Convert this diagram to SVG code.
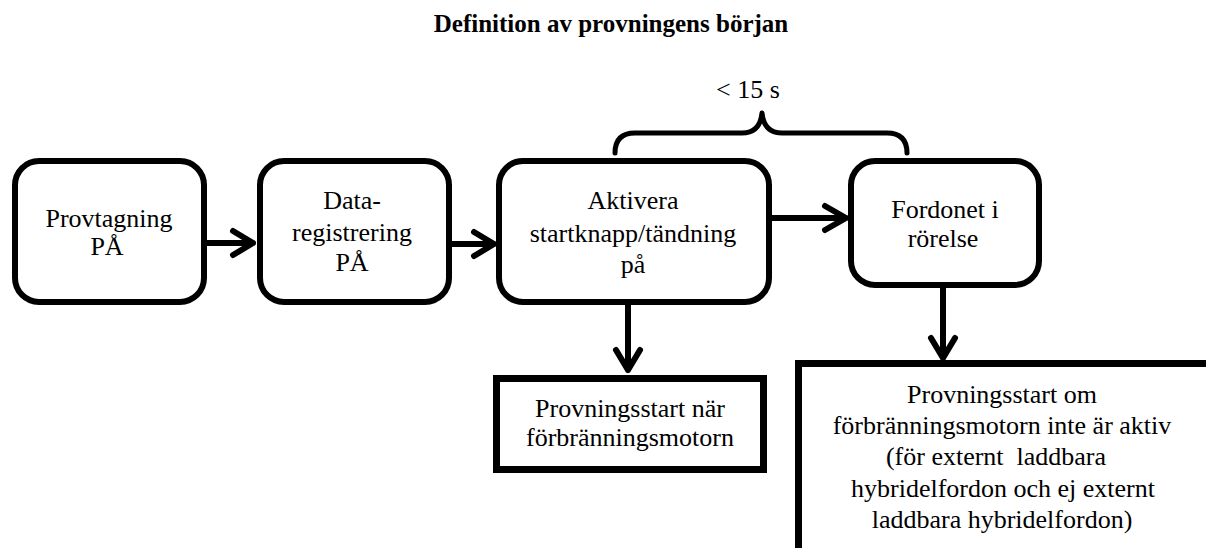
<svg xmlns="http://www.w3.org/2000/svg" width="1206" height="548" viewBox="0 0 1206 548">
<style>
.box{fill:#fff;stroke:#000;stroke-width:6}
.sq{fill:#fff;stroke:#000;stroke-width:7}
.t{font-family:"Liberation Serif","Times New Roman",serif;font-size:26px;fill:#000;text-anchor:middle}
.title{font-family:"Liberation Serif","Times New Roman",serif;font-size:25px;font-weight:bold;fill:#000;text-anchor:middle}
.ln{fill:none;stroke:#000;stroke-width:6;stroke-linecap:round;stroke-linejoin:round}
.br{fill:none;stroke:#000;stroke-width:5;stroke-linecap:round;stroke-linejoin:round}
</style>
<rect width="1206" height="548" fill="#fff"/>
<text class="title" x="611" y="32">Definition av provningens början</text>
<g id="connectors">
<path class="ln" d="M207,243 L253,243 M233,231 L253,243 L233,255"/>
<path class="ln" d="M452,244 L494,244 M474,232 L494,244 L474,256"/>
<path class="ln" d="M772,218 L846,218 M825,206 L846,218 L825,230"/>
<path class="ln" d="M628,305 L628,370 M616,350 L628,370 L640,350"/>
<path class="ln" d="M943,288 L943,358 M931,338 L943,358 L955,338"/>
<path class="br" d="M615,153 Q615,133 635,133 L742,133 Q760,133 762,113 Q764,133 782,133 L887,133 Q907,133 907,153"/>
<text class="t" x="748" y="98" font-size="25">&lt; 15 s</text>
</g>
<g id="n1">
<rect class="box" x="15" y="161" width="189" height="141" rx="24"/>
<text class="t" x="109" y="227">Provtagning</text>
<text class="t" x="107" y="255">PÅ</text>
</g>
<g id="n2">
<rect class="box" x="260" y="161" width="189" height="141" rx="24"/>
<text class="t" x="352" y="209">Data-</text>
<text class="t" x="352" y="241">registrering</text>
<text class="t" x="352" y="271">PÅ</text>
</g>
<g id="n3">
<rect class="box" x="499" y="161" width="270" height="141" rx="24"/>
<text class="t" x="633" y="209">Aktivera</text>
<text class="t" x="633" y="242">startknapp/tändning</text>
<text class="t" x="633" y="273">på</text>
</g>
<g id="n4">
<rect class="box" x="851" y="161" width="188" height="124" rx="24"/>
<text class="t" x="945" y="218">Fordonet i</text>
<text class="t" x="943" y="247">rörelse</text>
</g>
<g id="n5">
<rect class="sq" x="496.5" y="378.5" width="267" height="91"/>
<text class="t" x="630" y="417">Provningsstart när</text>
<text class="t" x="630" y="446">förbränningsmotorn</text>
</g>
<g id="n6">
<rect class="sq" x="798.5" y="363.5" width="420" height="200"/>
<text class="t" x="1002" y="403">Provningsstart om</text>
<text class="t" x="1002" y="434">förbränningsmotorn inte är aktiv</text>
<text class="t" x="996" y="465">(för externt&#160; laddbara</text>
<text class="t" x="1003" y="497">hybridelfordon och ej externt</text>
<text class="t" x="1002" y="528">laddbara hybridelfordon)</text>
</g>
</svg>
